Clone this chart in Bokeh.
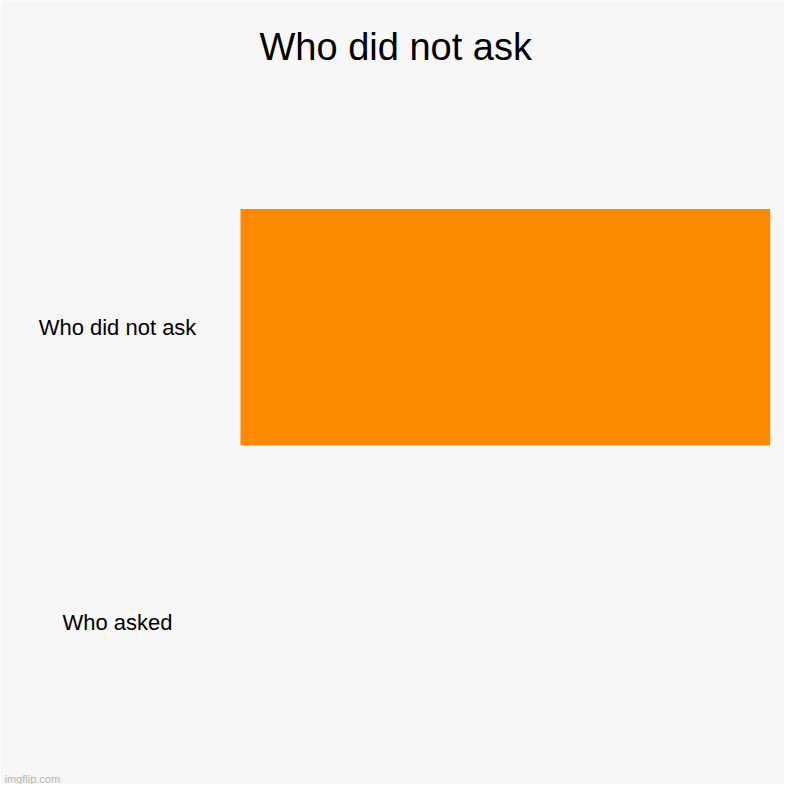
from bokeh.plotting import figure
from bokeh.models import FactorRange, Range1d, Title
from bokeh.core.properties import value
from bokeh.embed import file_html
from bokeh.resources import INLINE

# chart data
chart_title = "Who did not ask"
categories = ["Who asked", "Who did not ask"]   # bottom to top
counts = [0, 100]
watermark = "imgflip.com"

BG = "#f7f7f7"
BAR = "#ff8a00"
FONT = "Liberation Sans"

max_val = max(counts)
# frame spans the whole width so the category labels can live inside it
x_start = -max_val * 240 / 530

p = figure(width=784, height=784,
           y_range=FactorRange(*categories, range_padding=0),
           x_range=Range1d(x_start, max_val),
           output_backend="svg", toolbar_location=None,
           min_border_left=0, min_border_right=14,
           min_border_top=179, min_border_bottom=13)

p.background_fill_color = BG
p.border_fill_color = BG
p.outline_line_color = None
p.grid.visible = False
p.axis.visible = False

p.title.text = chart_title
p.title.align = "left"
p.title.offset = 259
p.title.standoff = 43
p.title.text_font = FONT
p.title.text_font_size = "38px"
p.title.text_font_style = "normal"
p.title.text_color = "#000000"

# blank spacer between the title and the plot area
p.add_layout(Title(text=" ", text_font_size="38px", standoff=46), "above")

p.hbar(y=categories, right=counts, left=0, height=0.8,
       fill_color=BAR, line_color=None)

p.text(x=[0] * len(categories), y=categories, text=categories,
       x_offset=-123, text_align="center", text_baseline="middle",
       text_font=value(FONT), text_font_size="22px", text_color="#000000")

p.add_layout(Title(text=watermark, align="left", offset=4, standoff=0,
                   text_font=FONT, text_font_size="11px",
                   text_font_style="normal", text_color="#b4b4b4"), "below")

open("out.html", "w").write(file_html(p, INLINE))
